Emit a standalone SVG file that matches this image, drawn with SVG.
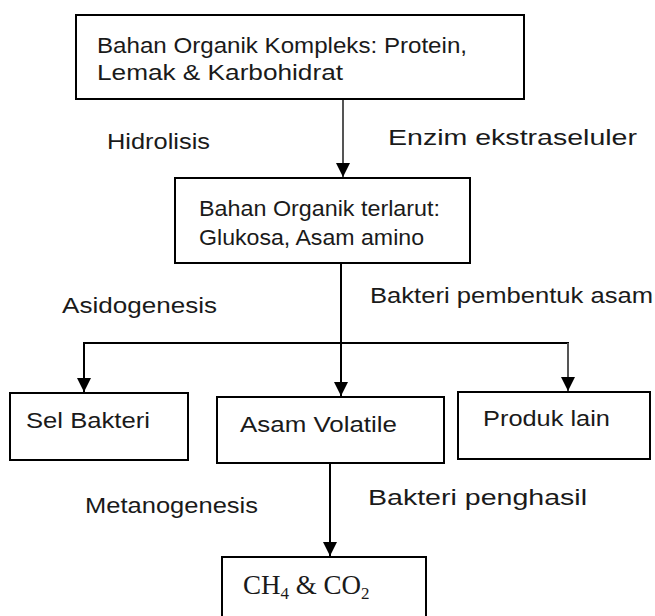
<svg xmlns="http://www.w3.org/2000/svg" width="655" height="616" viewBox="0 0 655 616">
<defs>
<style>
.box{fill:#fff;stroke:#000;stroke-width:2}
.t{font-family:"Liberation Sans",Arial,sans-serif;font-size:22px;fill:#1a1a1a}
.s{font-family:"Liberation Serif","Times New Roman",serif;font-size:27px;fill:#1a1a1a}
.ln{stroke:#000;stroke-width:2;fill:none}
.lg{stroke:#555;stroke-width:2;fill:none}
</style>
<marker id="ah" viewBox="0 0 10 10" refX="10" refY="5" markerWidth="7" markerHeight="7" orient="auto" markerUnits="strokeWidth"><path d="M0,0 L10,5 L0,10 z" fill="#000"/></marker>
</defs>
<rect width="655" height="616" fill="#fff"/>
<g id="connectors">
<line class="lg" x1="343" y1="99" x2="343" y2="177" marker-end="url(#ah)"/>
<line class="ln" x1="341" y1="263" x2="341" y2="396" marker-end="url(#ah)"/>
<line class="ln" x1="83" y1="343" x2="569" y2="343"/>
<line class="ln" x1="84" y1="343" x2="84" y2="392" marker-end="url(#ah)"/>
<line class="lg" x1="568" y1="343" x2="568" y2="391" marker-end="url(#ah)"/>
<line class="ln" x1="330" y1="463" x2="330" y2="556" marker-end="url(#ah)"/>
</g>
<g id="labels">
<text class="t" x="107" y="149" textLength="103" lengthAdjust="spacingAndGlyphs">Hidrolisis</text>
<text class="t" x="388" y="145" textLength="249" lengthAdjust="spacingAndGlyphs">Enzim ekstraseluler</text>
<text class="t" x="62" y="313" textLength="155" lengthAdjust="spacingAndGlyphs">Asidogenesis</text>
<text class="t" x="370" y="303" textLength="283" lengthAdjust="spacingAndGlyphs">Bakteri pembentuk asam</text>
<text class="t" x="85" y="513" textLength="173" lengthAdjust="spacingAndGlyphs">Metanogenesis</text>
<text class="t" x="368" y="505" textLength="219" lengthAdjust="spacingAndGlyphs">Bakteri penghasil</text>
</g>
<g id="n1">
<rect class="box" x="76" y="15" width="448" height="84"/>
<text class="t" x="97" y="53" textLength="370" lengthAdjust="spacingAndGlyphs">Bahan Organik Kompleks: Protein,</text>
<text class="t" x="97" y="80" textLength="246" lengthAdjust="spacingAndGlyphs">Lemak &amp; Karbohidrat</text>
</g>
<g id="n2">
<rect class="box" x="175" y="178" width="295" height="85"/>
<text class="t" x="199" y="216" textLength="241" lengthAdjust="spacingAndGlyphs">Bahan Organik terlarut:</text>
<text class="t" x="199" y="245" textLength="225" lengthAdjust="spacingAndGlyphs">Glukosa, Asam amino</text>
</g>
<g id="n3">
<rect class="box" x="10" y="393" width="178" height="67"/>
<text class="t" x="26" y="428" textLength="124" lengthAdjust="spacingAndGlyphs">Sel Bakteri</text>
</g>
<g id="n4">
<rect class="box" x="217" y="397" width="227" height="66"/>
<text class="t" x="240" y="432" textLength="157" lengthAdjust="spacingAndGlyphs">Asam Volatile</text>
</g>
<g id="n5">
<rect class="box" x="458" y="392" width="192" height="67"/>
<text class="t" x="483" y="426" textLength="127" lengthAdjust="spacingAndGlyphs">Produk lain</text>
</g>
<g id="n6">
<rect class="box" x="222" y="557" width="204" height="70"/>
<text class="s" x="243" y="594">CH<tspan font-size="17" dy="5">4</tspan><tspan dy="-5"> &amp; CO</tspan><tspan font-size="17" dy="5">2</tspan></text>
</g>
</svg>
